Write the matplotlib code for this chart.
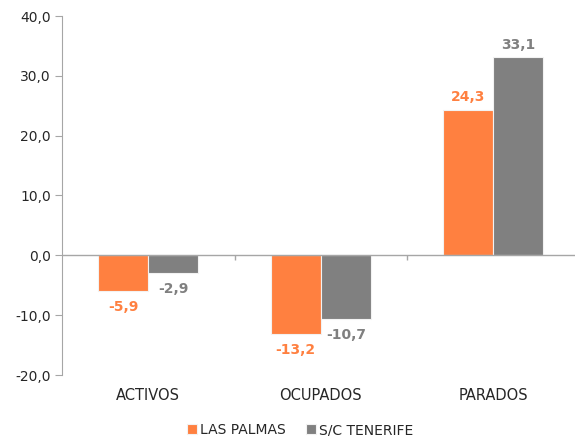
import numpy as np
import matplotlib.pyplot as plt
from matplotlib.ticker import FuncFormatter

categories = ['ACTIVOS', 'OCUPADOS', 'PARADOS']
las_palmas = [-5.9, -13.2, 24.3]
tenerife = [-2.9, -10.7, 33.1]
series_names = ['LAS PALMAS', 'S/C TENERIFE']

orange = '#FF8040'
grey = '#808080'
axis_grey = '#A6A6A6'
text_col = '#262626'

fig = plt.figure(figsize=(5.75, 4.36), dpi=100)
W, H = 575.0, 436.0
# axes spans 3 category slots of ~172.5 px, starting at x=62
ax = fig.add_axes([62 / W, 1 - 375 / H, 517.5 / W, (375 - 16) / H])

x = np.arange(len(categories))
bw = 0.29
b1 = ax.bar(x - bw / 2, las_palmas, bw, color=orange, edgecolor='#F2F2F2', linewidth=0.8, label=series_names[0])
b2 = ax.bar(x + bw / 2, tenerife, bw, color=grey, edgecolor='#F2F2F2', linewidth=0.8, label=series_names[1])

ax.set_xlim(-0.5, 2.5)
ax.set_ylim(-20, 40)
ax.set_yticks(np.arange(-20, 41, 10))
ax.yaxis.set_major_formatter(FuncFormatter(lambda v, p: ('%.1f' % v).replace('.', ',')))

ax.set_xticks(x)
ax.set_xticklabels(categories, fontsize=10.5, color=text_col)
ax.tick_params(axis='x', length=0, pad=9)
ax.tick_params(axis='y', length=5, color=axis_grey, labelsize=10, labelcolor=text_col, pad=3)

for s in ['top', 'right', 'bottom']:
    ax.spines[s].set_visible(False)
ax.spines['left'].set_color(axis_grey)
ax.axhline(0, color=axis_grey, linewidth=1)
ax.vlines([0.5, 1.5], 0, -0.8, color=axis_grey, linewidth=1)

def lab(v):
    return ('%.1f' % v).replace('.', ',')

for bars, vals, col in [(b1, las_palmas, orange), (b2, tenerife, grey)]:
    for r, v in zip(bars, vals):
        cx = r.get_x() + r.get_width() / 2
        if v < 0:
            ax.annotate(lab(v), (cx, v), xytext=(0, -6.5), textcoords='offset points',
                        ha='center', va='top', color=col, fontsize=10, fontweight='bold')
        else:
            ax.annotate(lab(v), (cx, v), xytext=(0, 4), textcoords='offset points',
                        ha='center', va='bottom', color=col, fontsize=10, fontweight='bold')

leg = fig.legend(loc='center', bbox_to_anchor=(300 / W, 1 - 430 / H), ncol=2, frameon=False,
                 fontsize=10, handlelength=0.7, handleheight=0.7, handletextpad=0.2, columnspacing=1.5)
for t in leg.get_texts():
    t.set_color(text_col)

fig.savefig('out.png', dpi=100)
